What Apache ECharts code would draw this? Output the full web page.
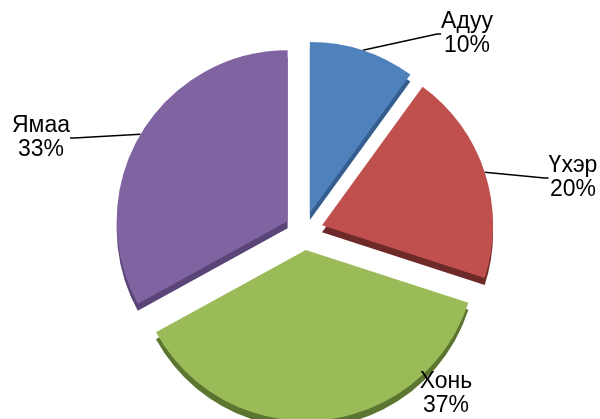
<!DOCTYPE html>
<html><head><meta charset="utf-8">
<script src="https://cdn.jsdelivr.net/npm/echarts@6/dist/echarts.min.js"></script>
<style>html,body{margin:0;padding:0;background:#fff}#c{width:600px;height:419px}</style>
</head><body><div id="c"></div>
<script>
const categories = ['Адуу', 'Үхэр', 'Хонь', 'Ямаа'];
const values = [10, 20, 37, 33];
const topColors = ['#4F81BD', '#C0504D', '#9BBB59', '#8064A2'];
const sideColors = ['#355E8E', '#6E2A28', '#5C7530', '#5A4578'];
const labelPos = [[467, 34], [573, 178], [446, 394], [41, 138]];
const showLine = [true, true, false, true];

const CX = 304, CY = 231, R = 171, OFF = 19;
const total = values.reduce((a, b) => a + b, 0);
let cum = 0;
const mids = values.map(v => { const m = (cum + v / 2) / total * Math.PI * 2; cum += v; return m; });

const chart = echarts.init(document.getElementById('c'), null, {renderer: 'canvas'});
const series = [{
  type: 'pie', silent: true, z: 1,
  center: [CX, CY + 7], radius: R, startAngle: 90, clockwise: true,
  selectedMode: 'multiple', selectedOffset: OFF,
  label: {show: false}, labelLine: {show: false},
  data: categories.map((n, i) => ({name: n, value: values[i], selected: true, itemStyle: {color: sideColors[i]}}))
}];
categories.forEach((name, i) => {
  series.push({
    type: 'pie', silent: true, z: 2,
    center: [CX + OFF * Math.sin(mids[i]), CY - OFF * Math.cos(mids[i])],
    radius: R, startAngle: 90, clockwise: true,
    avoidLabelOverlap: false,
    label: {
      show: true, formatter: '{b}\n{d}%', color: '#000',
      fontFamily: 'Liberation Sans, Arial, sans-serif', fontSize: 23, lineHeight: 24,
      align: 'center'
    },
    labelLine: {show: true, lineStyle: {color: '#000', width: 1.5}, length: 8, length2: 4},
    labelLayout: function (p) {
      if (p.dataIndex !== i) return {};
      const pos = labelPos[i];
      return {x: pos[0], y: pos[1], align: 'center', verticalAlign: 'middle'};
    },
    data: categories.map((n, j) => j === i
      ? {name: n, value: values[j], itemStyle: {color: topColors[j]}, labelLine: {show: showLine[j]}}
      : {name: n, value: values[j], itemStyle: {color: 'rgba(0,0,0,0)'}, label: {show: false}, labelLine: {show: false}})
  });
});
chart.setOption({animation: false, series: series});
</script></body></html>
